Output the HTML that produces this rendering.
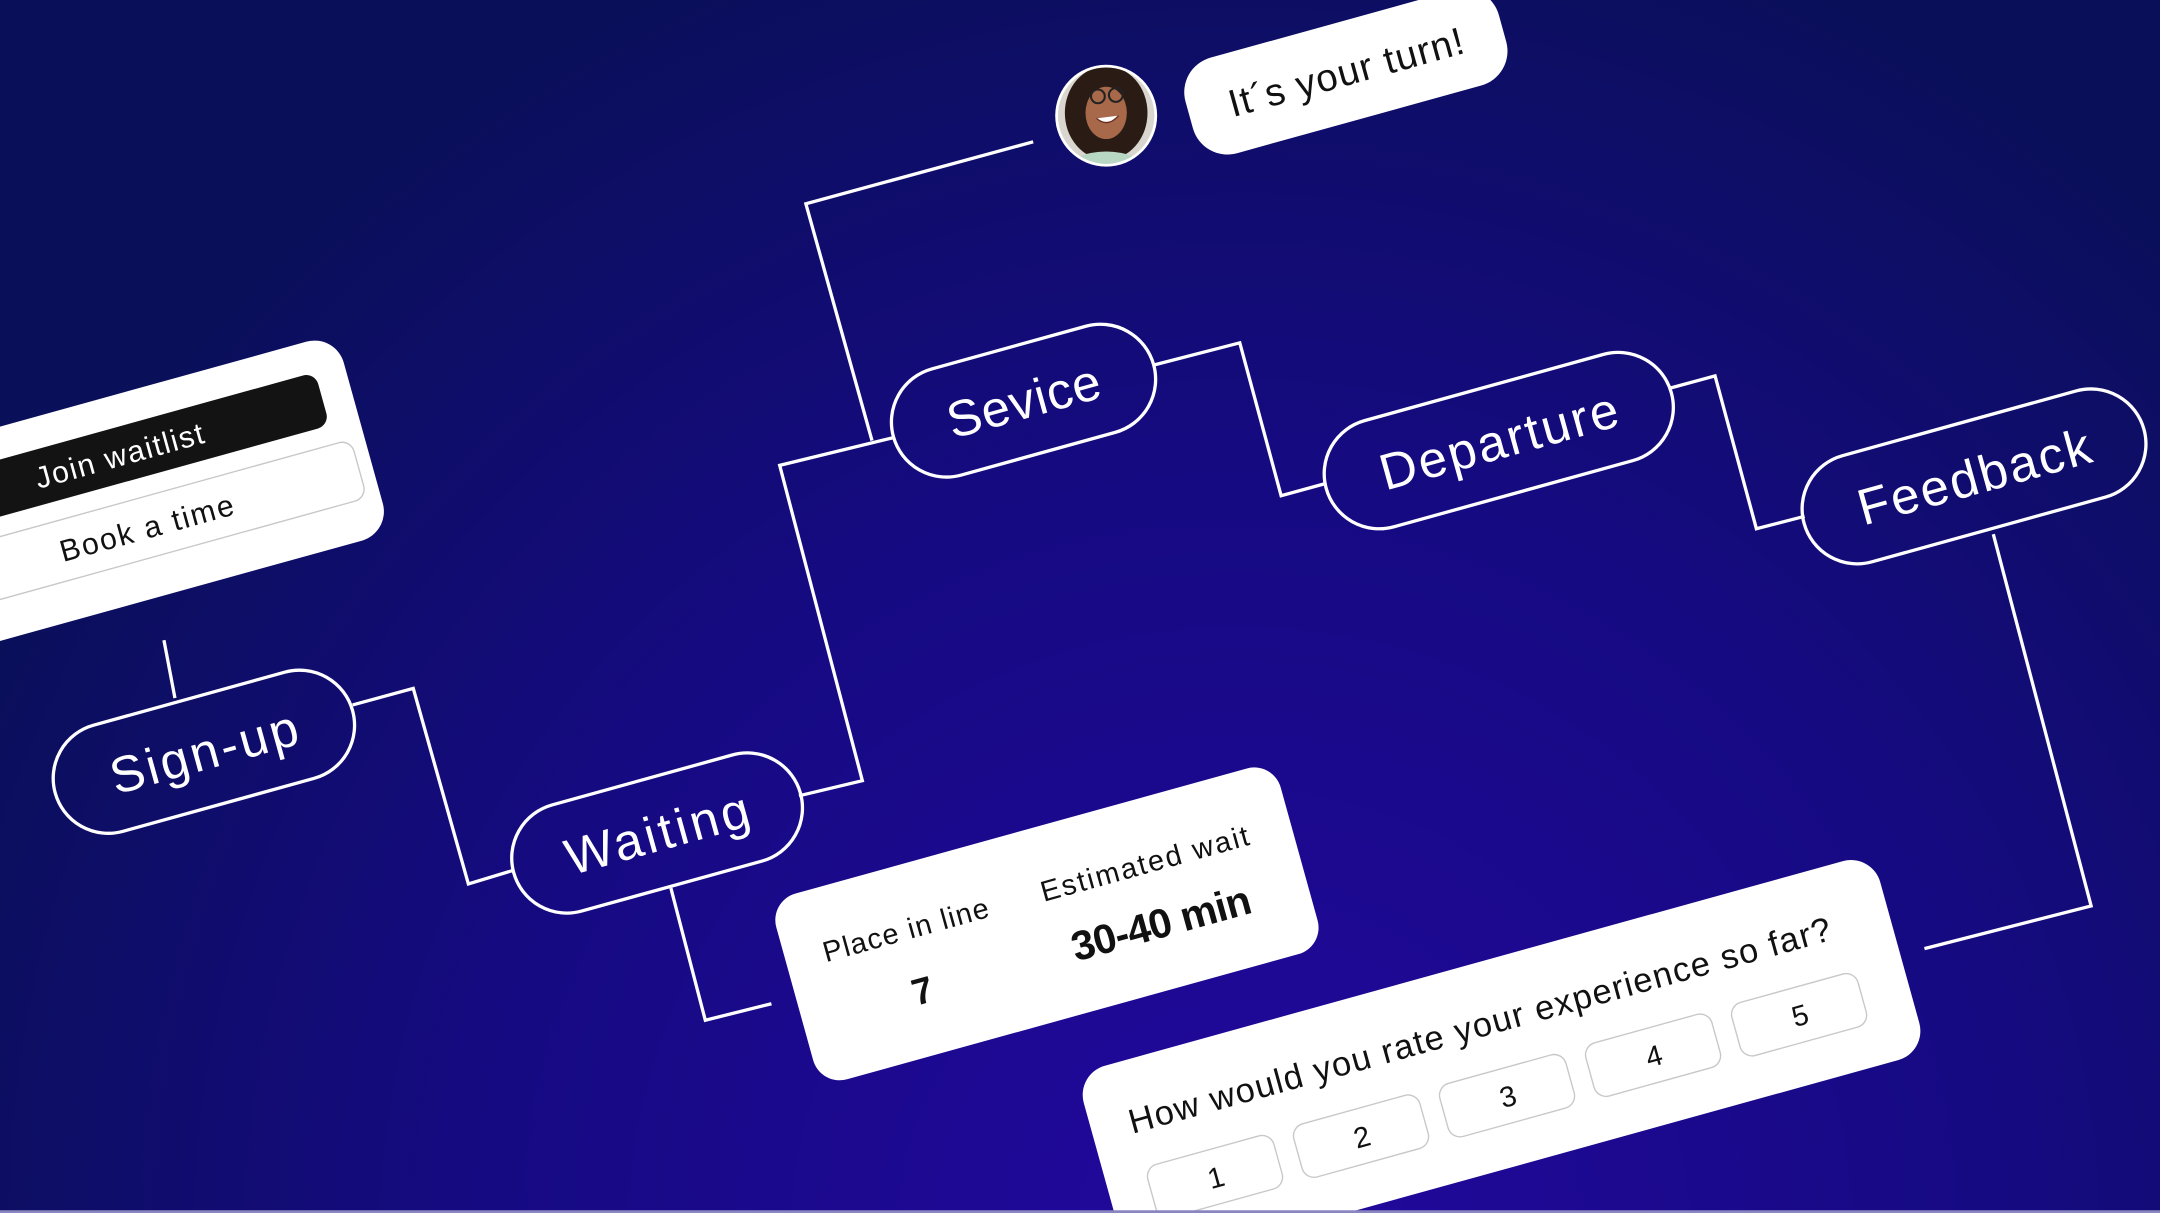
<!DOCTYPE html>
<html><head><meta charset="utf-8"><style>
html,body{margin:0;padding:0;width:2160px;height:1213px;overflow:hidden;background:#0b0f5e}
svg{display:block}
text{font-family:"Liberation Sans",sans-serif}
</style></head><body>
<svg width="2160" height="1213" viewBox="0 0 1568 881" preserveAspectRatio="none" xmlns="http://www.w3.org/2000/svg">
<defs>
<radialGradient id="bg" cx="900" cy="900" r="1000" gradientUnits="userSpaceOnUse">
<stop offset="0" stop-color="#22089e"/>
<stop offset="0.55" stop-color="#160a82"/>
<stop offset="1" stop-color="#0a0f5a"/>
</radialGradient>
<clipPath id="av"><circle cx="803" cy="84" r="35"/></clipPath>
</defs>
<rect width="1568" height="881" fill="url(#bg)"/>
<g fill="none" stroke="#fff" stroke-width="2.4">
<polyline points="119,465 127,507"/>
<polyline points="256,512 300,500 340,642 373,632"/>
<polyline points="580,578 626,567 566,338 648,318"/>
<polyline points="633,320 585,148 750,103"/>
<polyline points="487,645 512,741 560,729"/>
<polyline points="838,265 900,249 930,360 963,351"/>
<polyline points="1212,282 1245,273 1275,384 1310,375"/>
<polyline points="1447,388 1518,658 1397,689"/>
</g>
<g fill="none" stroke="#fff" stroke-width="2.4" font-size="37">
<g transform="translate(148,546) rotate(-15.5)"><rect x="-112" y="-40" width="224" height="80" rx="40"/><text x="0" y="13" text-anchor="middle" textLength="140" fill="#fff" stroke="none">Sign-up</text></g>
<g transform="translate(477,605) rotate(-15.5)"><rect x="-108" y="-40" width="216" height="80" rx="40"/><text x="0" y="13" text-anchor="middle" textLength="137" fill="#fff" stroke="none">Waiting</text></g>
<g transform="translate(743,291) rotate(-15.5)"><rect x="-98" y="-40" width="196" height="80" rx="40"/><text x="0" y="13" text-anchor="middle" textLength="114" fill="#fff" stroke="none">Sevice</text></g>
<g transform="translate(1088,320) rotate(-15.5)"><rect x="-130" y="-40" width="260" height="80" rx="40"/><text x="0" y="13" text-anchor="middle" textLength="178" fill="#fff" stroke="none">Departure</text></g>
<g transform="translate(1433,346) rotate(-15.5)"><rect x="-128" y="-40" width="256" height="80" rx="40"/><text x="0" y="13" text-anchor="middle" textLength="174" fill="#fff" stroke="none">Feedback</text></g>
</g>
<g transform="translate(71,368) rotate(-15.5)">
<rect x="-200" y="-75" width="400" height="150" rx="22" fill="#fff"/>
<rect x="-220" y="-52" width="398" height="40" rx="9" fill="#131313"/>
<text x="25" y="-24" text-anchor="middle" font-size="22" textLength="126" fill="#fff">Join waitlist</text>
<rect x="-220" y="2" width="410" height="44" rx="9" fill="#fff" stroke="#c8c8c8" stroke-width="1"/>
<text x="30" y="32" text-anchor="middle" font-size="22" textLength="130" fill="#111">Book a time</text>
</g>
<circle cx="803" cy="84" r="37" fill="#fff"/>
<g clip-path="url(#av)">
<rect x="765" y="46" width="80" height="80" fill="#d9d6d0"/>
<ellipse cx="803" cy="82" rx="30" ry="34" fill="#2a1c14"/>
<ellipse cx="803" cy="124" rx="28" ry="14" fill="#b9d8c4"/>
<ellipse cx="803" cy="82" rx="15" ry="19" fill="#a7694a"/>
<circle cx="797" cy="70" r="5" fill="none" stroke="#222" stroke-width="1.5"/>
<circle cx="810" cy="69" r="5" fill="none" stroke="#222" stroke-width="1.5"/>
<path d="M796 86 Q804 93 812 84" fill="#fff" stroke="#6b2f22" stroke-width="1"/>
</g>
<g transform="translate(977,52) rotate(-15.5)">
<rect x="-118" y="-36" width="236" height="72" rx="26" fill="#fff"/>
<text x="0" y="10" text-anchor="middle" font-size="28" textLength="176" fill="#111">It´s your turn!</text>
</g>
<g transform="translate(760,671) rotate(-15.5)">
<rect x="-190" y="-70" width="380" height="140" rx="20" fill="#fff"/>
<text x="-100" y="-16" text-anchor="middle" font-size="21" textLength="124" fill="#111">Place in line</text>
<text x="-100" y="32" text-anchor="middle" font-size="27" font-weight="bold" fill="#111">7</text>
<text x="80" y="-16" text-anchor="middle" font-size="21" textLength="156" fill="#111">Estimated wait</text>
<text x="80" y="32" text-anchor="middle" font-size="30" font-weight="bold" textLength="134" fill="#111">30-40 min</text>
</g>
<g transform="translate(1090,772) rotate(-15.5)">
<rect x="-300" y="-75" width="600" height="150" rx="22" fill="#fff"/>
<text x="-272" y="-22" font-size="25" textLength="528" fill="#111">How would you rate your experience so far?</text>
<g fill="#fff" stroke="#c8c8c8" stroke-width="1">
<rect x="-270" y="4" width="95" height="40" rx="9"/>
<rect x="-160" y="4" width="95" height="40" rx="9"/>
<rect x="-50" y="4" width="95" height="40" rx="9"/>
<rect x="60" y="4" width="95" height="40" rx="9"/>
<rect x="170" y="4" width="95" height="40" rx="9"/>
</g>
<g font-size="21" fill="#111" text-anchor="middle">
<text x="-222" y="32">1</text><text x="-112" y="32">2</text><text x="-2" y="32">3</text><text x="108" y="32">4</text><text x="218" y="32">5</text>
</g>
</g>
<rect x="0" y="879" width="1568" height="2" fill="#8a86c0"/>
</svg>
</body></html>
